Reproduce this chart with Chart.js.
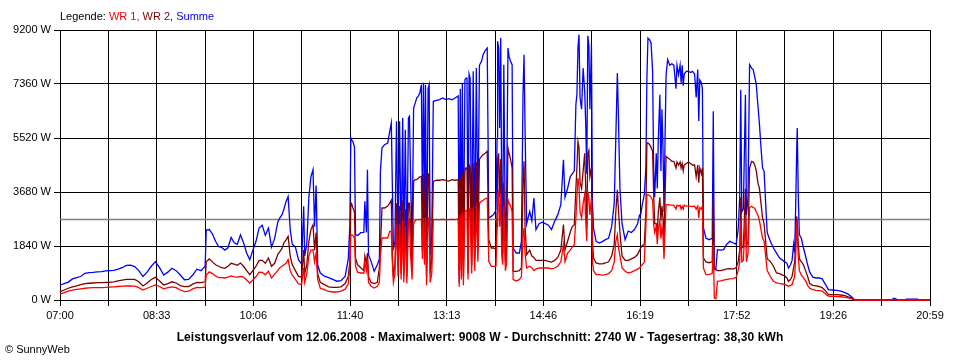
<!DOCTYPE html>
<html><head><meta charset="utf-8">
<script src="https://cdn.jsdelivr.net/npm/chart.js@4"></script>
<style>
html,body{margin:0;padding:0;background:#fff;}
#wrap{position:relative;width:960px;height:360px;overflow:hidden;font-family:"Liberation Sans",Arial,sans-serif;color:#000;}
#c{position:absolute;left:0;top:0;}
#legend{position:absolute;left:60px;top:9px;font-size:11px;line-height:14px;white-space:nowrap;}
#title{position:absolute;left:0;width:960px;top:330px;text-align:center;font-size:12px;line-height:14px;font-weight:bold;white-space:nowrap;letter-spacing:0.1px;}
#copy{position:absolute;left:5px;top:342px;font-size:11px;line-height:14px;}
</style></head>
<body><div id="wrap"><canvas id="c" width="960" height="360"></canvas>
<div id="legend">Legende: <span style="color:#ff0000">WR 1,</span> <span style="color:#800000">WR 2,</span> <span style="color:#0000ff">Summe</span></div>
<div id="title">Leistungsverlauf vom 12.06.2008 - Maximalwert: 9008 W - Durchschnitt: 2740 W - Tagesertrag: 38,30 kWh</div>
<div id="copy">© SunnyWeb</div></div>
<script>
// minutes after 07:00
const times = [
0,4,8,12,16,20,24,28,32,36,
40,44,48,52,56,60,64,68,72,76,
80,84,88,92,96,100,104,108,112,116,
120,124,128,132,136,140,141,144,147,150,
153,156,159,162,165,168,171,174,177,180,
183,186,189,192,195,198,201,204,207,210,
212,214,216,218,220,222,224,227,230,233,
235,236,238,240,242,244,245.5,247,248.5,251,
255,259,263,267,271,275,278,279.5,280.5,281,
282.5,284,285,287,290,293,294,295.5,296.5,297.5,
300,303,306,308,309,310.5,313,316,318,319.5,
320.5,321.5,323,324.5,326,327.5,329,330.5,331.5,333,
334.5,336,337,338,339.5,341,342.5,344,345.5,347,
348.5,349.5,350.5,351.5,352.5,353.5,355,356,357,358.5,
360,363,366,369,372,375,378,381,384,385,
386,387,388,389,390.5,391.5,392.5,393.5,394.5,395.5,
397,398.5,400,401.5,403,404.5,406.5,408,410,412,
413.5,416,418,419.5,420.5,421.5,422,423,424,425,
426,427,428,429.5,430.5,432,433,434.5,436,437,
440,443,445,446.5,447.5,448.5,450,453,455,457,
459,462,465,468,471,474,477,480,483,485.5,
487,489.5,492,494,496,497.5,498.5,499.5,500.5,501.5,
503,504.5,506,507,508,509,510,511,512.5,513.5,
514.5,517,520,523,526,529,532,534.5,536,537.5,
538.5,540,542,545,548,551,554,557,559,560,
561.5,563.5,565,566,567,568.5,570,571.5,572.5,573.5,
575,576,577,578.5,579.5,580.5,581.5,582.5,583.5,584.5,
586,588,590,592,594,595,596.5,598,599,600,
601,602,604,606,608,610,612,613.5,615,616,
617,618.5,619.5,620.5,623,626,629,630,631,632.5,
634,637,640,643,646,649,652,654,655.5,656.5,
657.5,659,661,662,663.5,665,667,668.5,670,671.5,
673,674.5,676,677.5,679,680.5,682,685,688,691,
694,697,699,701,702.5,704.5,706,707.5,708.5,709.5,
710.5,711,712,713,715,717,719,721,723,726,
729,732,735,737,739,741,745,749,753,757,
760,763,765,767,802,804,806,808,815,816,
827,828,839];

const summe = [
511,560,610,720,760,800,909,930,940,955,
970,990,1000,1010,1050,1100,1180,1190,1140,1000,
800,950,1150,1306,1100,850,950,1080,1000,850,
690,700,850,1050,1000,1150,2385,2400,2250,2000,
1820,1790,1700,1780,2136,1950,1900,2215,1950,1600,
1374,1700,2000,2450,2550,2200,2450,1800,2100,2650,
2800,2900,3100,3350,3530,2400,1900,1800,1374,1226,
3192,1500,1900,3500,4200,4440,2500,3900,1200,920,
810,760,700,640,660,806,1400,2500,5519,5460,
5400,5200,2225,2200,2294,2300,3362,2300,4441,1544,
1317,977,1200,1400,4384,5180,5293,5350,5746,6030,
3930,1772,2000,6087,2000,6087,1772,6200,1500,5800,
1300,6200,6258,4384,1772,6541,6700,6882,6950,7052,
7336,3200,7400,3400,7336,1317,7200,7336,1544,2100,
6769,6800,6830,6882,6830,6860,6820,6882,6950,900,
7200,1800,7400,1300,7500,7563,7563,1500,7700,7563,
1800,7791,2000,7904,2700,8000,8133,8360,8500,8586,
2794,2850,2907,3000,3078,5500,8814,8587,5860,8927,
3500,2500,8019,2000,2500,8587,8300,8133,8019,1772,
1601,1601,2000,7000,8360,5800,2600,3022,2700,3475,
2396,2600,2650,2600,2550,2400,2680,2900,3250,4781,
3500,3800,4200,4300,4400,6655,7000,8587,9042,6900,
6500,7900,7100,6000,4300,9000,8700,6500,8700,3300,
2450,2000,1942,1990,2055,2100,2500,3300,5500,7734,
6300,3800,2600,2055,2350,2300,2400,2600,2900,2908,
3248,3589,4500,7563,8927,8870,8756,7790,4500,3500,
5000,3800,5500,6996,4400,6500,5200,3000,5500,7677,
8190,8000,8050,8000,7200,8000,7677,8000,7400,8000,
7300,7700,7790,7800,7750,7790,7700,6900,7850,6100,
7500,7400,7200,2453,2100,2055,2100,6428,1100,1050,
1715,1700,1715,1900,2000,1950,1900,2400,3500,7167,
3000,3100,6996,2900,3500,8019,7900,7850,7600,7336,
6655,6000,5200,4500,4384,3300,2300,2000,1772,1600,
1431,1350,1300,1250,1090,1200,1350,1900,1600,3248,
5200,5860,3500,2226,2100,1772,1500,1200,950,780,
750,750,720,600,480,352,340,330,300,250,
200,120,50,0,0,60,40,0,0,25,
25,0,0];

const wr2 = [
284,340,400,450,480,520,560,570,580,590,
590,600,600,620,650,680,700,705,700,620,
480,580,700,772,650,510,560,620,580,490,
454,460,540,600,590,620,1300,1400,1300,1200,
1150,1100,1080,1150,1250,1220,1180,1260,1150,1000,
863,1000,1150,1350,1350,1250,1430,1150,1250,1550,
1650,1750,1950,2050,2170,1500,1200,1000,806,780,
1700,900,1200,2000,2400,2566,1700,2300,900,600,
523,450,431,430,450,560,800,1300,3305,3300,
3134,3000,1431,1200,1100,1000,1500,1250,1600,800,
600,560,600,1100,1800,3134,3134,3200,3300,3400,
1500,800,1200,3300,1100,3200,900,3400,800,3100,
800,3300,3300,2600,1000,4043,4100,4100,4150,4200,
4214,1700,4300,2000,4400,800,4300,4300,900,1400,
4043,4080,4080,4100,4080,4050,4100,4080,4100,600,
4200,1000,4300,800,4400,4497,4497,900,4600,4500,
1200,4668,1400,4700,1800,4800,4895,4950,5000,5066,
2055,1772,1772,1750,1750,3000,4800,5000,3500,4800,
2500,1600,4000,1300,1500,5180,5000,4800,4500,977,
977,1000,1100,4000,4725,2500,1545,1700,1500,1450,
1350,1350,1350,1350,1320,1290,1350,1450,1700,2567,
1700,2000,2300,2500,2567,3800,4500,5405,5200,4000,
3800,4400,5000,3800,2500,5000,5100,4200,4500,2000,
1431,1261,1230,1230,1261,1300,1500,1900,3000,3759,
3100,2300,1500,1350,1350,1400,1450,1550,1700,1772,
1850,1900,3000,5349,5349,5300,5200,5066,3600,2600,
2600,2300,3000,3500,2700,3200,2800,2000,3500,4895,
4850,4800,4725,4725,4500,4700,4600,4700,4500,4650,
4400,4600,4650,4700,4650,4600,4600,4200,4600,4000,
4500,4300,4500,1431,1300,1270,1300,3500,1034,1034,
1000,1000,1030,1060,1070,1050,1100,1300,1700,3500,
1772,1800,3800,1850,2000,4500,4725,4700,4600,4400,
4000,3800,3300,2800,2600,2000,1400,1317,1150,920,
900,850,820,750,636,700,806,1100,1300,2000,
2850,2600,1900,1400,1300,1200,1000,800,560,500,
480,460,420,360,280,182,182,180,170,150,
110,70,30,0,0,20,20,0,0,0,
0,0,0];

const wr1 = [
204,250,300,340,360,380,400,410,420,420,
425,430,440,450,460,470,477,480,470,420,
340,400,460,511,460,380,420,450,420,340,
284,300,380,430,420,440,850,960,900,820,
760,760,750,780,820,790,780,800,780,680,
579,680,800,950,940,860,980,750,880,1000,
1100,1150,1200,1250,1374,1000,850,700,545,520,
1100,600,900,1500,1700,1715,1300,1600,700,400,
352,290,272,272,300,370,550,1100,2226,2226,
2200,2100,1147,950,920,920,1300,1000,1400,600,
470,409,470,600,1500,2112,2112,2112,2340,2340,
1300,600,900,2600,800,2600,700,2700,600,2500,
560,2700,2750,1600,700,2600,2700,2740,2740,2740,
2750,1400,2800,1200,2800,500,2800,2800,600,900,
2737,2737,2737,2750,2737,2737,2750,2737,2760,450,
2900,700,3000,500,3000,3050,3050,700,3100,3100,
900,3134,1000,3200,1300,3300,3362,3400,3450,3475,
1317,1147,1147,1147,1150,2500,3600,3700,2500,3600,
1500,1200,3200,1000,1200,3418,3300,3200,3000,693,
650,693,800,2200,2453,1600,1090,1150,1100,1000,
1050,1090,1090,1090,1090,1060,1090,1150,1300,1885,
1300,1600,1700,1800,1885,2800,3500,4157,3900,3000,
2800,3300,3600,2700,2000,3700,3500,2900,3500,1300,
1000,863,863,850,863,900,1000,1300,2000,2226,
1800,1500,1100,980,920,950,1000,1050,1100,1147,
1200,1300,2500,3589,3589,3560,3500,3400,2600,2300,
2500,1900,2400,2700,2100,2500,2200,1400,2400,3248,
3248,3240,3230,3230,3100,3230,3200,3230,3100,3200,
3100,3230,3200,3200,3200,3180,3200,3100,3200,2800,
3150,3100,3200,1090,863,870,900,1900,68,40,
636,650,680,700,720,730,770,1000,1300,2700,
1300,1350,2800,1300,1600,3150,3191,3150,3130,3000,
2900,2700,2400,2100,2000,1500,1000,800,640,580,
560,545,530,500,470,500,522,700,800,1500,
2680,2200,1500,1000,850,750,650,500,400,352,
330,320,300,250,180,130,125,120,110,90,
70,50,20,0,0,20,10,0,0,0,
0,0,0];

const average = 2740;
const tickLabels = ['07:00','08:33','10:06','11:40','13:13','14:46','16:19','17:52','19:26','20:59'];
const yTickLabels = ['0 W','1840 W','3680 W','5520 W','7360 W','9200 W'];
const yTickValues = [0,1840,3680,5520,7360,9200];
const xMax = 839;

const toPts = arr => times.map((t,i)=>({x:t,y:arr[i]}));
const font = {family:'"Liberation Sans", Arial, sans-serif', size:11};

new Chart(document.getElementById('c'), {
  type:'line',
  data:{datasets:[
    {label:'WR 1', data:toPts(wr1), borderColor:'#ff0000', borderWidth:1.3, pointRadius:0, tension:0, clip:false},
    {label:'WR 2', data:toPts(wr2), borderColor:'#800000', borderWidth:1.3, pointRadius:0, tension:0, clip:false},
    {label:'Summe', data:toPts(summe), borderColor:'#0000ff', borderWidth:1.3, pointRadius:0, tension:0, clip:false},
    {label:'Durchschnitt', data:[{x:0,y:average},{x:xMax,y:average}], borderColor:'#808080', borderWidth:1.5, pointRadius:0, clip:false}
  ]},
  options:{
    responsive:false, animation:false, devicePixelRatio:1,
    layout:{padding:{top:30,right:30,left:0,bottom:0}},
    plugins:{legend:{display:false}, tooltip:{enabled:false}},
    scales:{
      x:{type:'linear', min:0, max:xMax,
        afterBuildTicks:s=>{ const n=(tickLabels.length-1)*2; s.ticks=[]; for(let k=0;k<=n;k++) s.ticks.push({value:k*xMax/n}); },
        afterFit:s=>{ s.height=60; },
        ticks:{autoSkip:false, maxRotation:0, minRotation:0, color:'#000', font, padding:3,
          callback:(v,i)=> i%2===0 ? tickLabels[i/2] : ''},
        grid:{color:'#000', lineWidth:1, tickLength:6, tickColor:'#000'},
        border:{color:'#000', width:1}
      },
      y:{min:0, max:9200,
        afterBuildTicks:s=>{ s.ticks=yTickValues.map(v=>({value:v})); },
        afterFit:s=>{ s.width=60; },
        ticks:{color:'#000', font, padding:3, callback:(v,i)=>yTickLabels[i]},
        grid:{color:'#000', lineWidth:1, tickLength:6, tickColor:'#000'},
        border:{color:'#000', width:1}
      }
    }
  }
});
</script>
</body></html>
